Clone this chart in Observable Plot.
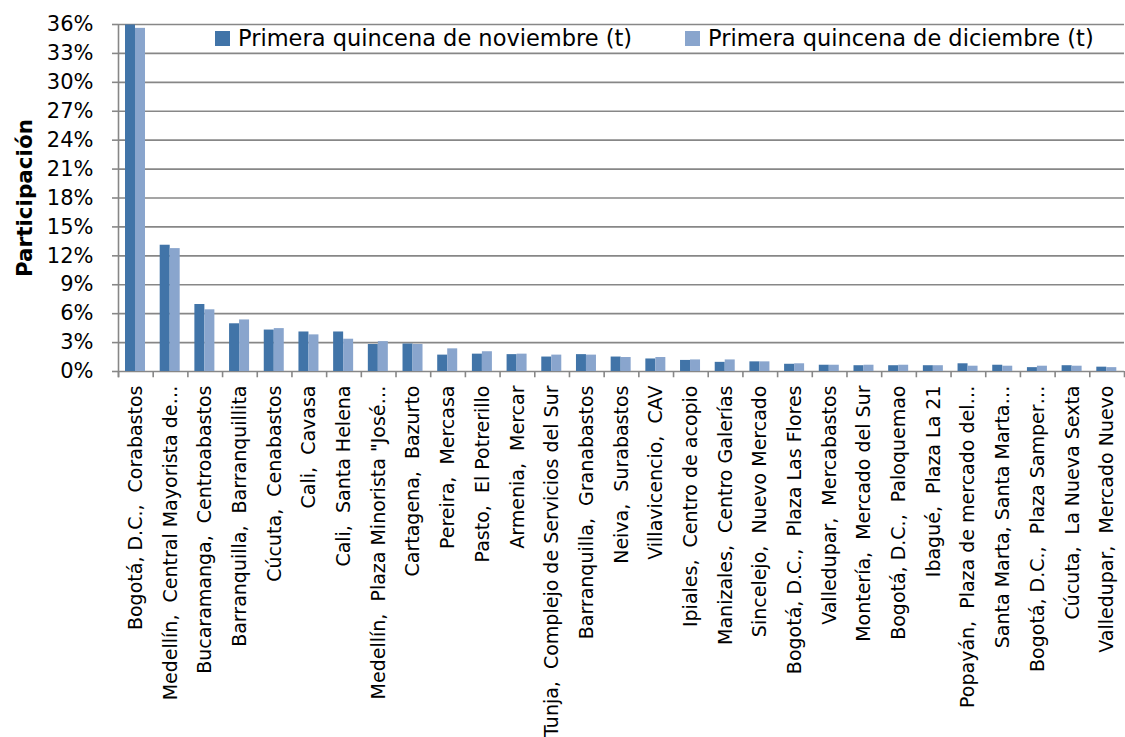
<!DOCTYPE html>
<html>
<head>
<meta charset="utf-8">
<script src="https://cdn.jsdelivr.net/npm/d3@7"></script>
<script src="https://cdn.jsdelivr.net/npm/@observablehq/plot@0.6"></script>
<style>
  html, body { margin: 0; padding: 0; background: #fff; }
  #wrap { position: relative; width: 1125px; height: 737px; font-family: "DejaVu Sans", sans-serif; }
  #wrap svg text { white-space: pre; }
  .sw { position: absolute; width: 15px; height: 15px; top: 31px; }
  .lt { position: absolute; top: 27px; font-size: 22.5px; line-height: 1; color: #000; white-space: nowrap; }
</style>
</head>
<body>
<div id="wrap"></div>
<script>
const categories = [
  "Bogotá, D.C.,  Corabastos",
  "Medellín,  Central Mayorista de…",
  "Bucaramanga,  Centroabastos",
  "Barranquilla,  Barranquillita",
  "Cúcuta,  Cenabastos",
  "Cali,  Cavasa",
  "Cali,  Santa Helena",
  "Medellín,  Plaza Minorista \"José…",
  "Cartagena,  Bazurto",
  "Pereira,  Mercasa",
  "Pasto,  El Potrerillo",
  "Armenia,  Mercar",
  "Tunja,  Complejo de Servicios del Sur",
  "Barranquilla,  Granabastos",
  "Neiva,  Surabastos",
  "Villavicencio,  CAV",
  "Ipiales,  Centro de acopio",
  "Manizales,  Centro Galerías",
  "Sincelejo,  Nuevo Mercado",
  "Bogotá, D.C.,  Plaza Las Flores",
  "Valledupar,  Mercabastos",
  "Montería,  Mercado del Sur",
  "Bogotá, D.C.,  Paloquemao",
  "Ibagué,  Plaza La 21",
  "Popayán,  Plaza de mercado del…",
  "Santa Marta, Santa Marta…",
  "Bogotá, D.C.,  Plaza Samper…",
  "Cúcuta,  La Nueva Sexta",
  "Valledupar,  Mercado Nuevo"
];
const noviembre = [35.95, 13.1, 6.95, 4.95, 4.3, 4.1, 4.1, 2.8, 2.85, 1.7, 1.8, 1.75, 1.5, 1.75, 1.5, 1.3, 1.15, 0.95, 1.0, 0.75, 0.65, 0.6, 0.6, 0.6, 0.8, 0.65, 0.4, 0.6, 0.45];
const diciembre = [35.6, 12.75, 6.4, 5.35, 4.45, 3.8, 3.35, 3.1, 2.8, 2.35, 2.05, 1.8, 1.7, 1.7, 1.45, 1.45, 1.2, 1.2, 1.0, 0.8, 0.65, 0.65, 0.65, 0.6, 0.55, 0.55, 0.55, 0.55, 0.4];
const seriesNames = ["Primera quincena de noviembre (t)", "Primera quincena de diciembre (t)"];
const colors = ["#4174A8", "#89A5CD"];
const yTicks = [0, 3, 6, 9, 12, 15, 18, 21, 24, 27, 30, 33, 36];
const yTitle = "Participación";

const gray = "#878787";
const width = 1125, marginLeft = 118, marginRight = 1;
const bw = (width - marginLeft - marginRight) / categories.length;

const dataNov = categories.map((c, i) => ({cat: c, v: noviembre[i]}));
const dataDic = categories.map((c, i) => ({cat: c, v: diciembre[i]}));

const chart = Plot.plot({
  width, height: 737,
  marginLeft, marginRight, marginTop: 24, marginBottom: 366,
  style: {fontFamily: "'DejaVu Sans', sans-serif", color: "#000", background: "#fff"},
  x: {domain: categories, padding: 0, round: false, axis: null},
  y: {domain: [0, 36], axis: null},
  marks: [
    Plot.gridY(yTicks, {stroke: gray, strokeOpacity: 1, strokeWidth: 1.6}),
    Plot.axisY(yTicks, {tickFormat: d => d + "%", tickSize: 6, tickPadding: 19, stroke: gray, strokeWidth: 1.6,
      fontSize: 21, label: null}),
    Plot.ruleX(categories, {x: d => d, dx: -bw / 2, y1: -0.65, y2: 0, stroke: gray, strokeWidth: 1.6}),
    Plot.ruleX([categories[categories.length - 1]], {x: d => d, dx: bw / 2, y1: -0.65, y2: 0, stroke: gray, strokeWidth: 1.6}),
    Plot.ruleX([categories[0]], {x: d => d, dx: -bw / 2, y1: -0.65, y2: 36, stroke: gray, strokeWidth: 1.6}),
    Plot.barY(dataNov, {x: "cat", y: "v", fill: colors[0], insetLeft: 7, insetRight: bw - 17}),
    Plot.barY(dataDic, {x: "cat", y: "v", fill: colors[1], insetLeft: 17, insetRight: bw - 27}),
    Plot.axisX({tickRotate: -90, tickSize: 0, tickPadding: 14, fontSize: 19, label: null}),
    Plot.text([yTitle], {frameAnchor: "left", dx: -93, rotate: -90, fontSize: 21.5, fontWeight: "bold",
      text: d => d, textAnchor: "middle"})
  ]
});

const wrap = document.getElementById("wrap");
wrap.appendChild(chart);
const legendPos = [{sw: 215, tx: 238}, {sw: 685, tx: 708}];
seriesNames.forEach((n, i) => {
  const sw = document.createElement("div");
  sw.className = "sw";
  sw.style.left = legendPos[i].sw + "px";
  sw.style.background = colors[i];
  wrap.appendChild(sw);
  const t = document.createElement("div");
  t.className = "lt";
  t.style.left = legendPos[i].tx + "px";
  t.textContent = n;
  wrap.appendChild(t);
});
</script>
</body>
</html>
